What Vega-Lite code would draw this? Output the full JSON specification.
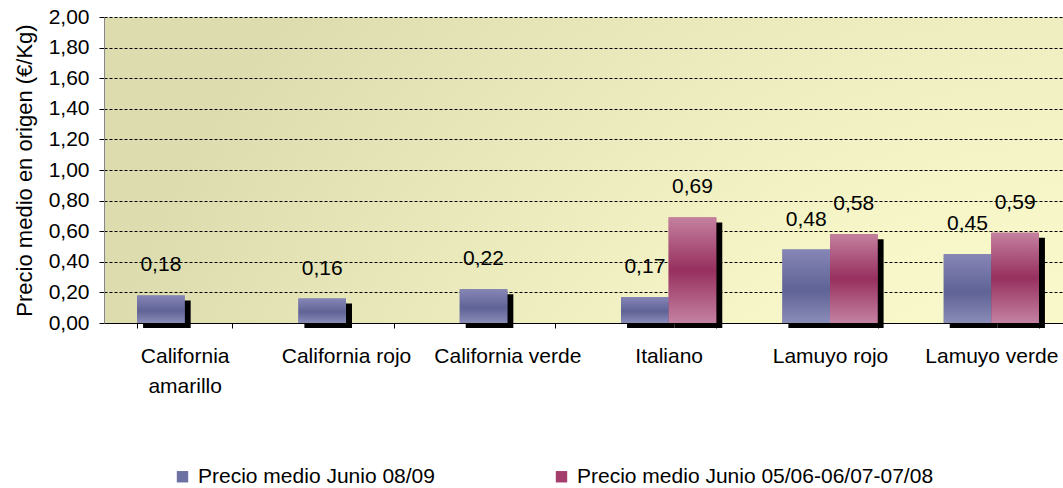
{
  "$schema": "https://vega.github.io/schema/vega-lite/v6.json",
  "width": 968,
  "height": 306,
  "autosize": {"type": "none"},
  "padding": {"left": 104, "top": 17, "right": 0, "bottom": 165},
  "background": "white",
  "config": {
    "locale": {"number": {"decimal": ",", "thousands": ".", "grouping": [3], "currency": ["", " €"]}},
    "font": "Liberation Sans",
    "view": {
      "stroke": null,
      "fill": {"gradient": "radial", "x1": 1, "y1": 1, "r1": 0, "x2": 1, "y2": 1, "r2": 1.05,
        "stops": [{"offset": 0, "color": "#ffffd3"}, {"offset": 0.45, "color": "#f6f6c8"}, {"offset": 1, "color": "#dcdcae"}]}
    },
    "legend": {"padding": 0}
  },
  "data": {
    "values": [
      {"categoria": "California amarillo", "serie": "Precio medio Junio 08/09", "precio": 0.18},
      {"categoria": "California rojo", "serie": "Precio medio Junio 08/09", "precio": 0.16},
      {"categoria": "California verde", "serie": "Precio medio Junio 08/09", "precio": 0.22},
      {"categoria": "Italiano", "serie": "Precio medio Junio 08/09", "precio": 0.17},
      {"categoria": "Italiano", "serie": "Precio medio Junio 05/06-06/07-07/08", "precio": 0.69},
      {"categoria": "Lamuyo rojo", "serie": "Precio medio Junio 08/09", "precio": 0.48},
      {"categoria": "Lamuyo rojo", "serie": "Precio medio Junio 05/06-06/07-07/08", "precio": 0.58},
      {"categoria": "Lamuyo verde", "serie": "Precio medio Junio 08/09", "precio": 0.45},
      {"categoria": "Lamuyo verde", "serie": "Precio medio Junio 05/06-06/07-07/08", "precio": 0.59}
    ]
  },
  "encoding": {
    "x": {
      "field": "categoria", "type": "nominal", "sort": null,
      "scale": {"paddingInner": 0.41, "paddingOuter": 0.205},
      "axis": {
        "title": null, "labelAngle": 0, "labelFontSize": 21, "labelColor": "#000000",
        "labelPadding": 17, "labelLimit": 0, "labelLineHeight": 30, "labelBaseline": "top",
        "labelExpr": "datum.value == 'California amarillo' ? ['California', 'amarillo'] : datum.value",
        "domainColor": "#000000", "domainWidth": 1, "tickColor": "#000000", "tickSize": 5,
        "tickBand": "extent", "grid": false
      }
    },
    "y": {
      "field": "precio", "type": "quantitative",
      "scale": {"domain": [0, 2], "nice": false, "zero": true},
      "axis": {
        "title": "Precio medio en origen (€/Kg)", "titleFontSize": 22, "titleFontWeight": "normal",
        "titleColor": "#000000", "titlePadding": 12,
        "values": [0, 0.2, 0.4, 0.6, 0.8, 1, 1.2, 1.4, 1.6, 1.8, 2],
        "format": ".2f", "labelFontSize": 21, "labelColor": "#000000", "labelPadding": 10,
        "grid": true, "gridColor": "#000000", "gridDash": [3, 2], "gridWidth": 1,
        "domainColor": "#868686", "tickColor": "#000000", "tickSize": 5
      }
    }
  },
  "layer": [
    {
      "transform": [{"filter": "datum.serie == 'Precio medio Junio 08/09'"}],
      "mark": {"type": "bar", "color": "#000000", "width": 47.6, "xOffset": -17.8, "yOffset": 5}
    },
    {
      "transform": [{"filter": "datum.serie == 'Precio medio Junio 05/06-06/07-07/08'"}],
      "mark": {"type": "bar", "color": "#000000", "width": 47.6, "xOffset": 29.8, "yOffset": 5}
    },
    {
      "mark": {"type": "bar"},
      "encoding": {
        "xOffset": {"field": "serie", "type": "nominal",
          "scale": {"domain": ["Precio medio Junio 08/09", "Precio medio Junio 05/06-06/07-07/08"], "paddingInner": 0, "paddingOuter": 0}},
        "color": {
          "field": "serie", "type": "nominal",
          "scale": {"domain": ["Precio medio Junio 08/09", "Precio medio Junio 05/06-06/07-07/08"], "range": ["#6c70a2", "#a43c6c"]},
          "legend": {
            "title": null, "orient": "none", "legendX": 68, "legendY": 449, "direction": "horizontal",
            "columns": 2, "columnPadding": 116, "symbolType": "square", "symbolSize": 130,
            "symbolStrokeWidth": 0, "labelFontSize": 21, "labelColor": "#000000", "labelOffset": 5,
            "labelLimit": 0
          }
        }
      }
    },
    {
      "transform": [{"filter": "datum.serie == 'Precio medio Junio 08/09'"}],
      "mark": {"type": "bar", "color": {"gradient": "linear", "x1": 0, "y1": 0, "x2": 0, "y2": 1,
        "stops": [{"offset": 0, "color": "#8686b6"}, {"offset": 0.55, "color": "#5f6395"}, {"offset": 1, "color": "#8a8cb8"}]}},
      "encoding": {
        "xOffset": {"field": "serie", "type": "nominal"}
      }
    },
    {
      "transform": [{"filter": "datum.serie == 'Precio medio Junio 05/06-06/07-07/08'"}],
      "mark": {"type": "bar", "color": {"gradient": "linear", "x1": 0, "y1": 0, "x2": 0, "y2": 1,
        "stops": [{"offset": 0, "color": "#c4809f"}, {"offset": 0.5, "color": "#97305e"}, {"offset": 1, "color": "#c482a2"}]}},
      "encoding": {
        "xOffset": {"field": "serie", "type": "nominal"}
      }
    },
    {
      "mark": {"type": "text", "baseline": "middle", "align": "center", "dy": -30, "fontSize": 21, "color": "#000000"},
      "encoding": {
        "xOffset": {"field": "serie", "type": "nominal"},
        "text": {"field": "precio", "type": "quantitative", "format": ".2f"}
      }
    }
  ]
}
